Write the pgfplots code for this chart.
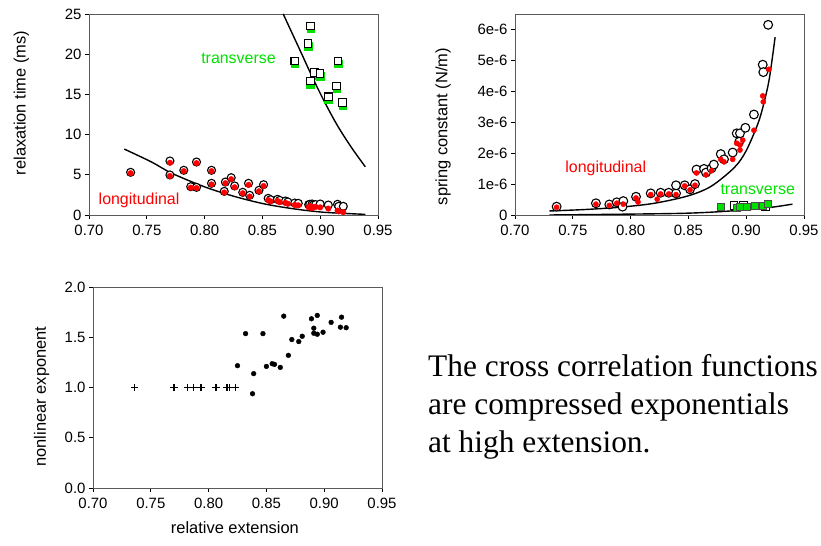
\documentclass[border=0pt]{standalone}
\usepackage{fontspec}
\setmainfont{Liberation Sans}
\newfontfamily\serif{Liberation Serif}
\usepackage{pgfplots}
\pgfplotsset{compat=1.18}

\definecolor{lgreen}{RGB}{0,225,0}
\definecolor{frame}{RGB}{90,90,90}

\pgfplotsset{
  panel/.style={
    anchor=south west, scale only axis, width=289bp, height=201bp,
    xmin=0.70, xmax=0.95,
    xtick={0.70,0.75,0.80,0.85,0.90,0.95},
    xticklabels={0.70,0.75,0.80,0.85,0.90,0.95},
    tick align=outside, tick pos=left,
    major tick length=4bp,
    axis line style={draw=frame, line width=0.8bp},
    major tick style={black, line width=0.8bp},
    tick label style={font=\fontsize{15}{18}\selectfont},
    xticklabel style={yshift=-3bp},
    label style={font=\fontsize{16.5}{20}\selectfont},
    /pgf/number format/assume math mode=true,
  },
  fit/.style={smooth, black, line width=1.4bp, no markers},
  opencirc/.style={only marks, mark=*, mark size=4bp,
    mark options={draw=black, fill=white, line width=1.1bp}},
  reddot/.style={only marks, mark=*, mark size=2.8bp,
    mark options={draw=red, fill=red}},
}

\begin{document}
\begin{tikzpicture}
\path[use as bounding box] (0,0) rectangle (821bp,546bp);

% ---- relaxation time ----
\begin{axis}[panel, at={(89bp,331bp)},
  ymin=0, ymax=25, ytick={0,5,10,15,20,25},
  ylabel={relaxation time (ms)},
  ylabel style={at={(axis description cs:-0.234,0.557)}, anchor=center}]
\addplot[fit] coordinates {
  (0.7305,8.2) (0.754,6.6) (0.7715,5.2) (0.800,3.5) (0.826,2.3)
  (0.852,1.37) (0.878,0.75) (0.904,0.33) (0.939,0.08)
};
\addplot[fit] coordinates {
  (0.868,25) (0.8825,20.5) (0.894,16.9) (0.904,14.0)
  (0.915,11.1) (0.927,8.4) (0.939,6.0)
};
\addplot[opencirc] coordinates {
  (0.736,5.31) (0.770,6.72) (0.770,4.98) (0.782,5.56) (0.788,3.52)
  (0.793,6.59) (0.793,3.44) (0.806,3.94) (0.806,5.56) (0.817,2.94)
  (0.818,4.10) (0.823,4.64) (0.826,3.61) (0.833,2.82) (0.838,3.94)
  (0.839,2.45) (0.847,3.07) (0.851,3.77) (0.855,2.07) (0.857,1.90)
  (0.863,1.95) (0.865,1.82) (0.870,1.74) (0.872,1.62) (0.878,1.49)
  (0.881,1.45) (0.890,1.29) (0.891,1.33) (0.893,1.37) (0.894,1.25)
  (0.896,1.29) (0.900,1.37) (0.907,1.24) (0.915,1.33) (0.916,1.08)
  (0.920,1.08)
};
\addplot[reddot] coordinates {
  (0.736,5.20) (0.770,6.50) (0.770,4.85) (0.782,5.45) (0.788,3.40)
  (0.793,6.45) (0.793,3.35) (0.806,3.80) (0.806,5.45) (0.817,2.80)
  (0.818,3.95) (0.823,4.45) (0.826,3.45) (0.833,2.70) (0.838,3.75)
  (0.839,2.30) (0.847,2.95) (0.851,3.60) (0.855,1.85) (0.857,1.70)
  (0.863,1.75) (0.865,1.60) (0.870,1.50) (0.872,1.40) (0.878,1.25)
  (0.881,1.20) (0.890,0.95) (0.891,1.10) (0.893,0.85) (0.894,1.00)
  (0.896,1.00) (0.900,0.95) (0.907,0.80) (0.915,0.55) (0.916,0.45)
  (0.920,0.35)
};
\addplot[only marks, mark=square*, mark size=3.8bp,
  mark options={draw=lgreen, fill=lgreen}] coordinates {
  (0.8918,23.15) (0.8894,21.0) (0.878,18.8) (0.9154,18.8) (0.8949,17.4)
  (0.8998,17.25) (0.8914,16.3) (0.9143,15.7) (0.907,14.35) (0.9194,13.6)
};
\addplot[only marks, mark=square*, mark size=3.8bp,
  mark options={draw=black, fill=white, line width=1.1bp}] coordinates {
  (0.8918,23.5) (0.8894,21.35) (0.878,19.15) (0.9154,19.15) (0.8949,17.75)
  (0.8998,17.6) (0.8914,16.67) (0.9143,16.04) (0.907,14.7) (0.9194,13.97)
};
\node[red, font=\fontsize{16}{19}\selectfont] at (axis cs:0.7433,1.87) {longitudinal};
\node[lgreen, font=\fontsize{16}{19}\selectfont] at (axis cs:0.8293,19.5) {transverse};
\end{axis}

% ---- spring constant ----
\begin{axis}[panel, at={(515bp,331bp)},
  ymin=0, ymax=6.5, ytick={0,1,2,3,4,5,6},
  yticklabels={0,1e-6,2e-6,3e-6,4e-6,5e-6,6e-6},
  ylabel={spring constant (N/m)},
  ylabel style={at={(axis description cs:-0.249,0.44)}, anchor=center}]
\addplot[fit] coordinates {
  (0.7297,0.13) (0.76,0.176) (0.79,0.249) (0.82,0.376) (0.85,0.621)
  (0.87,0.936) (0.89,1.545) (0.90,2.08) (0.91,2.94) (0.915,3.57)
  (0.92,4.41) (0.925,5.75)
};
\addplot[fit] coordinates {
  (0.7297,0.0) (0.78,0.02) (0.84,0.05) (0.869,0.09) (0.8975,0.16)
  (0.92,0.24) (0.94,0.35)
};
\addplot[opencirc, mark size=4.4bp] coordinates {
  (0.736,0.27) (0.770,0.38) (0.7816,0.34) (0.788,0.41) (0.7937,0.45)
  (0.793,0.27) (0.8047,0.59) (0.8174,0.70) (0.826,0.72) (0.833,0.72)
  (0.8393,0.70) (0.8393,0.96) (0.8468,0.96) (0.8514,0.83) (0.8557,1.00)
  (0.857,1.47) (0.8635,1.49) (0.8652,1.37) (0.870,1.51) (0.872,1.63)
  (0.878,1.97) (0.8808,1.80) (0.8883,2.02) (0.8918,2.64) (0.8946,2.64)
  (0.894,2.37) (0.8993,2.82) (0.9067,3.25) (0.9143,4.86) (0.9148,4.62)
  (0.919,6.15)
};
\addplot[reddot, mark size=2.6bp] coordinates {
  (0.736,0.25) (0.770,0.35) (0.7816,0.31) (0.788,0.38) (0.7937,0.35)
  (0.8047,0.55) (0.8064,0.42) (0.8174,0.66) (0.823,0.51) (0.826,0.68)
  (0.833,0.68) (0.8393,0.66) (0.8468,0.94) (0.8514,0.81) (0.8557,0.96)
  (0.857,1.36) (0.8652,1.30) (0.870,1.43) (0.878,1.80) (0.8808,1.72)
  (0.8883,1.80) (0.8918,2.32) (0.8946,2.26) (0.8946,2.10) (0.897,2.42)
  (0.9067,2.74) (0.9143,3.85) (0.9148,3.66) (0.9195,4.71)
};
\addplot[only marks, mark=square*, mark size=3.8bp,
  mark options={draw=black, fill=white, line width=1bp}] coordinates {
  (0.8895,0.31) (0.8975,0.30) (0.9165,0.28)
};
\addplot[only marks, mark=square*, mark size=3.6bp,
  mark options={draw=black!70, fill=lgreen, line width=0.8bp}] coordinates {
  (0.878,0.27) (0.892,0.24) (0.8946,0.25) (0.9004,0.27)
  (0.9076,0.30) (0.9143,0.30) (0.919,0.35)
};
\node[red, font=\fontsize{16}{19}\selectfont] at (axis cs:0.7785,1.52) {longitudinal};
\node[lgreen, font=\fontsize{16}{19}\selectfont] at (axis cs:0.910,0.84) {transverse};
\end{axis}

% ---- nonlinear exponent ----
\begin{axis}[panel, at={(93bp,58bp)},
  ymin=0, ymax=2, ytick={0,0.5,1,1.5,2},
  yticklabels={0.0,0.5,1.0,1.5,2.0},
  ylabel={nonlinear exponent},
  ylabel style={at={(axis description cs:-0.178,0.455)}, anchor=center},
  xlabel={relative extension},
  xlabel style={at={(axis description cs:0.491,-0.198)}, anchor=center}]
\addplot[only marks, mark=+, mark size=3.6bp, mark options={black, line width=1.2bp}] coordinates {
  (0.736,1) (0.770,1) (0.7705,1) (0.782,1) (0.787,1) (0.793,1)
  (0.794,1) (0.806,1) (0.807,1) (0.816,1) (0.818,1) (0.823,1)
};
\addplot[only marks, mark=*, mark size=2.4bp, mark options={black}] coordinates {
  (0.825,1.217) (0.832,1.536) (0.838,0.938) (0.839,1.138) (0.847,1.536)
  (0.850,1.21) (0.855,1.237) (0.857,1.23) (0.862,1.20) (0.865,1.71)
  (0.869,1.32) (0.872,1.477) (0.878,1.457) (0.881,1.51) (0.889,1.684)
  (0.891,1.59) (0.891,1.54) (0.894,1.717) (0.894,1.53) (0.899,1.55)
  (0.906,1.648) (0.914,1.60) (0.915,1.70) (0.919,1.595)
};
\end{axis}

% ---- caption text ----
\node[anchor=base west, font=\serif\fontsize{31.5}{38}\selectfont, inner sep=0pt]
  at (428bp,169bp) {The cross correlation functions};
\node[anchor=base west, font=\serif\fontsize{31.5}{38}\selectfont, inner sep=0pt]
  at (428bp,131bp) {are compressed exponentials};
\node[anchor=base west, font=\serif\fontsize{31.5}{38}\selectfont, inner sep=0pt]
  at (428bp,93bp) {at high extension.};
\end{tikzpicture}
\end{document}
